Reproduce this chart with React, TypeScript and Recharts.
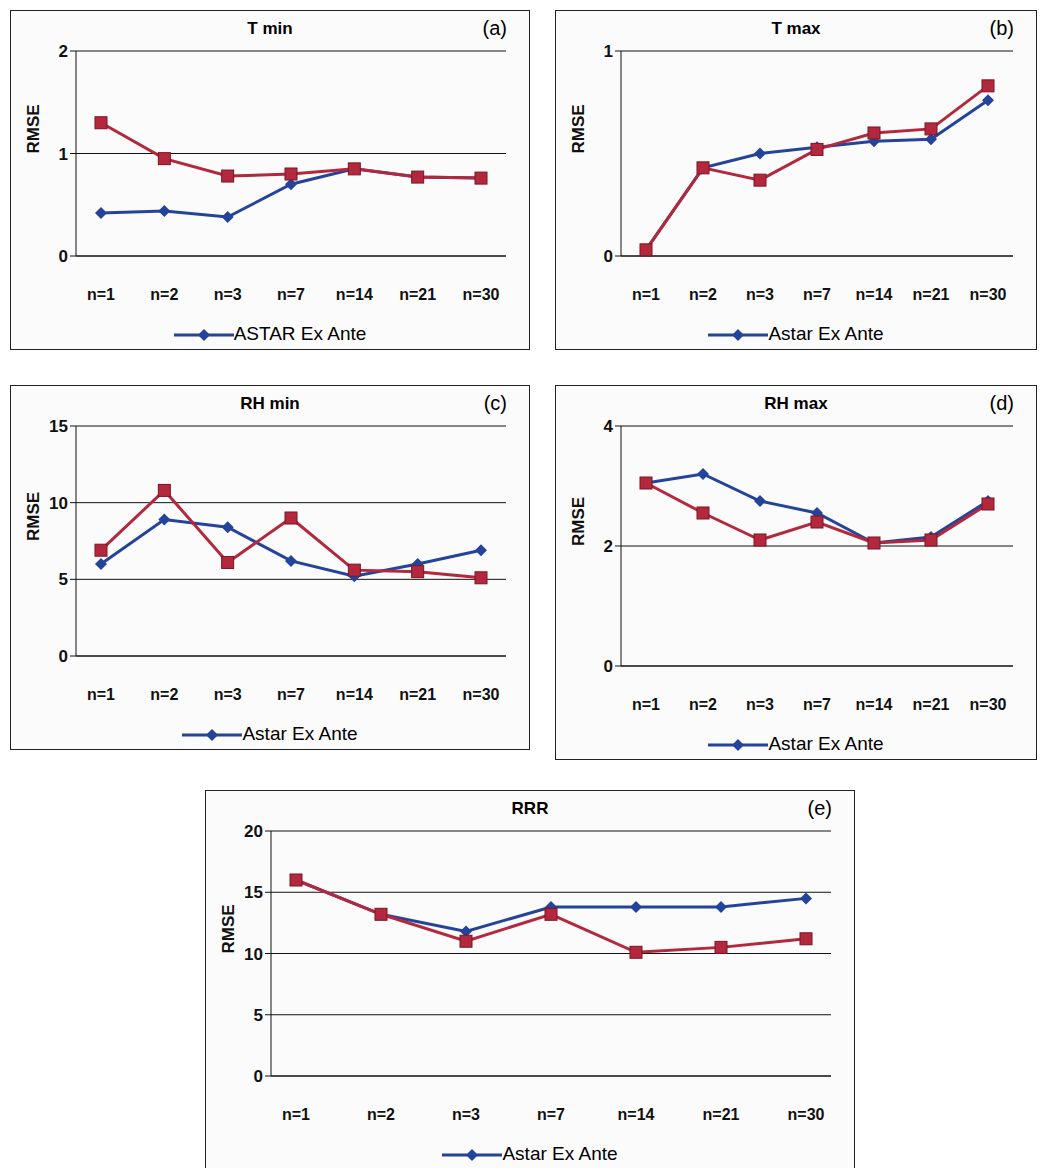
import { LineChart, Line, XAxis, YAxis, CartesianGrid } from "recharts";

const categories = ["n=1", "n=2", "n=3", "n=7", "n=14", "n=21", "n=30"];

const tminAstar = [0.42, 0.44, 0.38, 0.7, 0.85, 0.77, 0.76];
const tminOther = [1.3, 0.95, 0.78, 0.8, 0.85, 0.77, 0.76];
const tmaxAstar = [0.03, 0.43, 0.5, 0.53, 0.56, 0.57, 0.76];
const tmaxOther = [0.03, 0.43, 0.37, 0.52, 0.6, 0.62, 0.83];
const rhminAstar = [6, 8.9, 8.4, 6.2, 5.2, 6, 6.9];
const rhminOther = [6.9, 10.8, 6.1, 9, 5.6, 5.5, 5.1];
const rhmaxAstar = [3.05, 3.2, 2.75, 2.55, 2.05, 2.15, 2.75];
const rhmaxOther = [3.05, 2.55, 2.1, 2.4, 2.05, 2.1, 2.7];
const rrrAstar = [16, 13.2, 11.8, 13.8, 13.8, 13.8, 14.5];
const rrrOther = [16, 13.2, 11, 13.2, 10.1, 10.5, 11.2];

const BLUE = "#24439a";
const RED = "#b3283c";

const Diamond = (props: any) => {
  const { cx, cy } = props;
  if (cx == null) return null;
  return <path d={`M${cx},${cy - 6}L${cx + 6},${cy}L${cx},${cy + 6}L${cx - 6},${cy}Z`} fill={BLUE} />;
};
const Square = (props: any) => {
  const { cx, cy } = props;
  if (cx == null) return null;
  return <rect x={cx - 6} y={cy - 6} width={12} height={12} fill={RED} stroke="#7a1525" />;
};

const XTick = (props: any) => {
  const { x, y, payload } = props;
  return (
    <text x={x} y={y + 36} textAnchor="middle" fill="#111" fontSize={16} fontWeight="bold">{payload.value}</text>
  );
};

type PanelProps = {
  left: number; top: number; width: number; height: number;
  title: string; tag: string; legend: string;
  astar: number[]; other: number[]; ticks: number[];
};

const Panel = ({ left, top, width, height, title, tag, legend, astar, other, ticks }: PanelProps) => {
  const data = categories.map((c, i) => ({ name: c, astar: astar[i], other: other[i] }));
  const max = ticks[ticks.length - 1];
  return (
    <div style={{ position: "absolute", left, top, width, height, border: "1.5px solid #222", background: "#fbfbfb", boxSizing: "border-box" }}>
      <div style={{ position: "absolute", left: 0, right: 0, top: 8, textAlign: "center", fontWeight: "bold", fontSize: 17 }}>{title}</div>
      <div style={{ position: "absolute", right: 22, top: 6, fontSize: 20 }}>{tag}</div>
      <LineChart width={width - 10} height={height - 30} data={data} margin={{ top: 40, right: 15, left: 10, bottom: 20 }}>
        <CartesianGrid horizontal vertical={false} stroke="#111" />
        <XAxis dataKey="name" tick={<XTick />} height={45} stroke="#111" tickLine={false} padding={{ left: 25, right: 25 }} interval={0} />
        <YAxis domain={[0, max]} ticks={ticks} width={55} stroke="#111" tick={{ fill: "#111", fontSize: 17, fontWeight: "bold" }}
          label={{ value: "RMSE", angle: -90, position: "insideLeft", offset: 12, style: { fontWeight: "bold", fontSize: 17, fill: "#111" } }} />
        <Line dataKey="astar" stroke={BLUE} strokeWidth={3} dot={<Diamond />} isAnimationActive={false} />
        <Line dataKey="other" stroke={RED} strokeWidth={3} dot={<Square />} isAnimationActive={false} />
      </LineChart>
      <div style={{ position: "absolute", left: 0, right: 0, bottom: 4, textAlign: "center", fontSize: 19 }}>
        <svg width={60} height={14} style={{ verticalAlign: "middle" }}>
          <line x1={0} y1={7} x2={60} y2={7} stroke={BLUE} strokeWidth={3} />
          <path d="M30,1L36,7L30,13L24,7Z" fill={BLUE} />
        </svg>
        {legend}
      </div>
    </div>
  );
};

export default function App() {
  return (
    <div style={{ position: "relative", width: 1045, height: 1176, background: "#fff", margin: -8, fontFamily: "Liberation Sans" }}>
      <Panel left={10} top={10} width={520} height={340} title="T min" tag="(a)" legend="ASTAR Ex Ante" astar={tminAstar} other={tminOther} ticks={[0, 1, 2]} />
      <Panel left={555} top={10} width={482} height={340} title="T max" tag="(b)" legend="Astar Ex Ante" astar={tmaxAstar} other={tmaxOther} ticks={[0, 1]} />
      <Panel left={10} top={385} width={520} height={365} title="RH min" tag="(c)" legend="Astar Ex Ante" astar={rhminAstar} other={rhminOther} ticks={[0, 5, 10, 15]} />
      <Panel left={555} top={385} width={482} height={375} title="RH max" tag="(d)" legend="Astar Ex Ante" astar={rhmaxAstar} other={rhmaxOther} ticks={[0, 2, 4]} />
      <Panel left={205} top={790} width={650} height={380} title="RRR" tag="(e)" legend="Astar Ex Ante" astar={rrrAstar} other={rrrOther} ticks={[0, 5, 10, 15, 20]} />
    </div>
  );
}
